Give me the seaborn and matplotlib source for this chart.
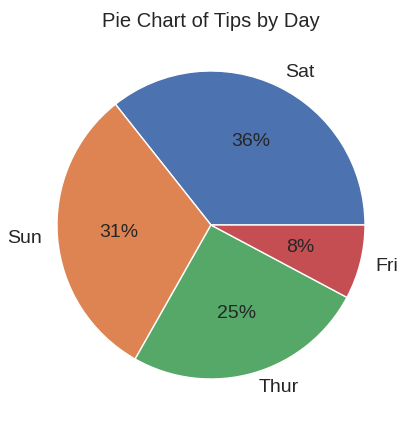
import matplotlib
matplotlib.use("Agg")
import seaborn as sns
from matplotlib import pyplot as plt

sns.set_theme()
plt.rcParams['font.family'] = ['Liberation Sans', 'DejaVu Sans']

days = ["Sat", "Sun", "Thur", "Fri"]
counts = [87, 76, 62, 19]

colors = sns.color_palette("deep", 4)

fig = plt.figure(figsize=(4.14, 4.28), dpi=100)
# square axes, pie centre ~ (211, 225) px, radius ~154 px
ax = fig.add_axes([18.5 / 414, 10.5 / 428, 385 / 414, 385 / 428])
ax.pie(counts, labels=days, colors=colors, autopct="%1.0f%%",
       wedgeprops={"edgecolor": "white", "linewidth": 1},
       textprops={"fontsize": 14})
ax.set_xlim(-1.25, 1.25)
ax.set_ylim(-1.25, 1.25)
ax.set_title("Pie Chart of Tips by Day", fontsize=14.5, pad=4)

plt.savefig("out.png")
